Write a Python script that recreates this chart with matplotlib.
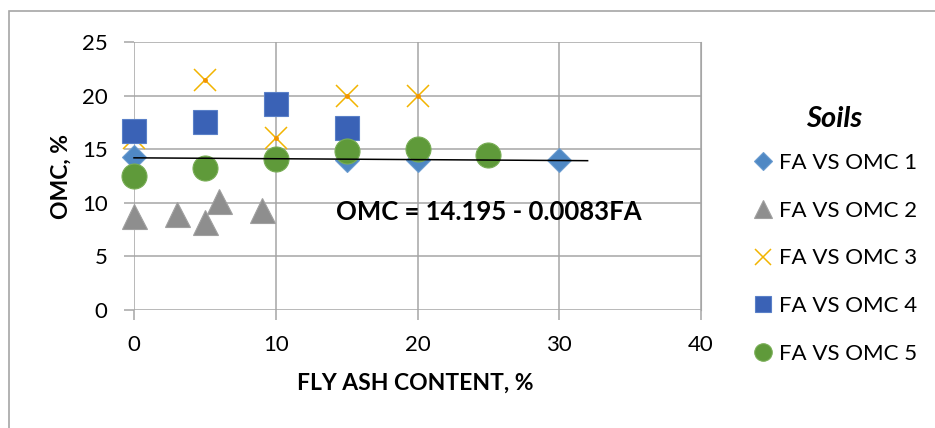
import numpy as np
import matplotlib.pyplot as plt
from matplotlib.patches import Rectangle

plt.rcParams['font.family'] = ['Lato', 'DejaVu Sans']

# data (fly ash %, OMC %)
fa_1 = [0, 10, 15, 20, 30]
omc_1 = [14.3, 14.1, 14.0, 14.0, 14.0]
fa_2 = [0, 3, 5, 6, 9]
omc_2 = [8.8, 9.0, 8.2, 10.2, 9.3]
fa_3 = [0, 5, 10, 15, 20]
omc_3 = [16.0, 21.5, 16.0, 20.0, 20.0]
fa_4 = [0, 5, 10, 15]
omc_4 = [16.7, 17.5, 19.2, 17.0]
fa_5 = [0, 5, 10, 15, 20, 25]
omc_5 = [12.5, 13.2, 14.1, 14.8, 15.0, 14.5]

labels = ['FA VS OMC 1', 'FA VS OMC 2', 'FA VS OMC 3', 'FA VS OMC 4', 'FA VS OMC 5']

# trend line OMC = 14.195 - 0.0083FA
b0 = 14.195
b1 = -0.0083
fit_end = 32

c1 = '#4f88c4'
c2 = '#8e8e8e'
c3 = '#f2b400'
c4 = '#3a62b6'
c5 = '#5f9a3a'

W, H = 935, 428
fig = plt.figure(figsize=(W / 100, H / 100), dpi=100)
ax = fig.add_axes([134 / W, 1 - 310 / H, (701 - 134) / W, (310 - 42) / H])

# chart border
fig.patches.append(Rectangle((9 / W, -0.1), 1.2, 1 - 11 / H + 0.1,
                             transform=fig.transFigure, fill=False,
                             edgecolor='#a6a6a6', lw=1.2))

h1, = ax.plot(fa_1, omc_1, ls='none', marker='D', ms=12.5, color=c1,
              mec='#6a9cd0', mew=0.8, clip_on=False)
h2, = ax.plot(fa_2, omc_2, ls='none', marker='^', ms=18, color=c2,
              mec='#a0a0a0', mew=0.8, clip_on=False)
h3, = ax.plot(fa_3, omc_3, ls='none', marker='x', ms=16, color=c3, mew=1.1,
              clip_on=False)
ax.plot(fa_3, omc_3, ls='none', marker='o', ms=3.5, color='#f29400', mew=0,
        clip_on=False)
h4, = ax.plot(fa_4, omc_4, ls='none', marker='s', ms=17, color=c4,
              mec='#5a80c8', mew=0.8, clip_on=False)
h5, = ax.plot(fa_5, omc_5, ls='none', marker='o', ms=18, color=c5,
              mec='#78ad55', mew=0.8, clip_on=False)

x_fit = np.array([0, fit_end])
ax.plot(x_fit, b0 + b1 * x_fit, color='black', lw=1.1, clip_on=False)

fig.text(336 / W, 1 - 212 / H, 'OMC = 14.195 - 0.0083FA', fontsize=18.5,
         fontweight='bold', va='center', ha='left')

ax.set_xlim(0, 40)
ax.set_ylim(0, 25)
ax.set_xticks([0, 10, 20, 30, 40])
ax.set_yticks([0, 5, 10, 15, 20, 25])
ax.grid(True, color='#a6a6a6', lw=1.1)
ax.set_axisbelow(True)
for s in ax.spines.values():
    s.set_visible(False)
ax.spines['right'].set_visible(True)
ax.spines['right'].set_color('#a6a6a6')
ax.tick_params(axis='both', length=7, color='#a6a6a6', width=1.1,
               labelsize=16)
ax.tick_params(axis='y', pad=12)
ax.tick_params(axis='x', pad=11)

fig.text(415 / W, 1 - 383 / H, 'FLY ASH CONTENT, %', fontsize=16.5,
         fontweight='bold', ha='center', va='center')
fig.text(61 / W, 1 - 176 / H, 'OMC, %', fontsize=16.5, fontweight='bold',
         rotation=90, ha='center', va='center')

leg = fig.legend([h1, h2, h3, h4, h5], labels, loc='upper left',
                 bbox_to_anchor=(732 / W, 1 - 86 / H), frameon=False,
                 fontsize=16, labelspacing=1.25, handletextpad=0.2,
                 handlelength=1.0, markerscale=0.7, title='Soils',
                 title_fontproperties={'weight': 'bold', 'style': 'italic',
                                       'size': 21})
leg._legend_box.sep = 15

fig.savefig('out.png', dpi=100)
